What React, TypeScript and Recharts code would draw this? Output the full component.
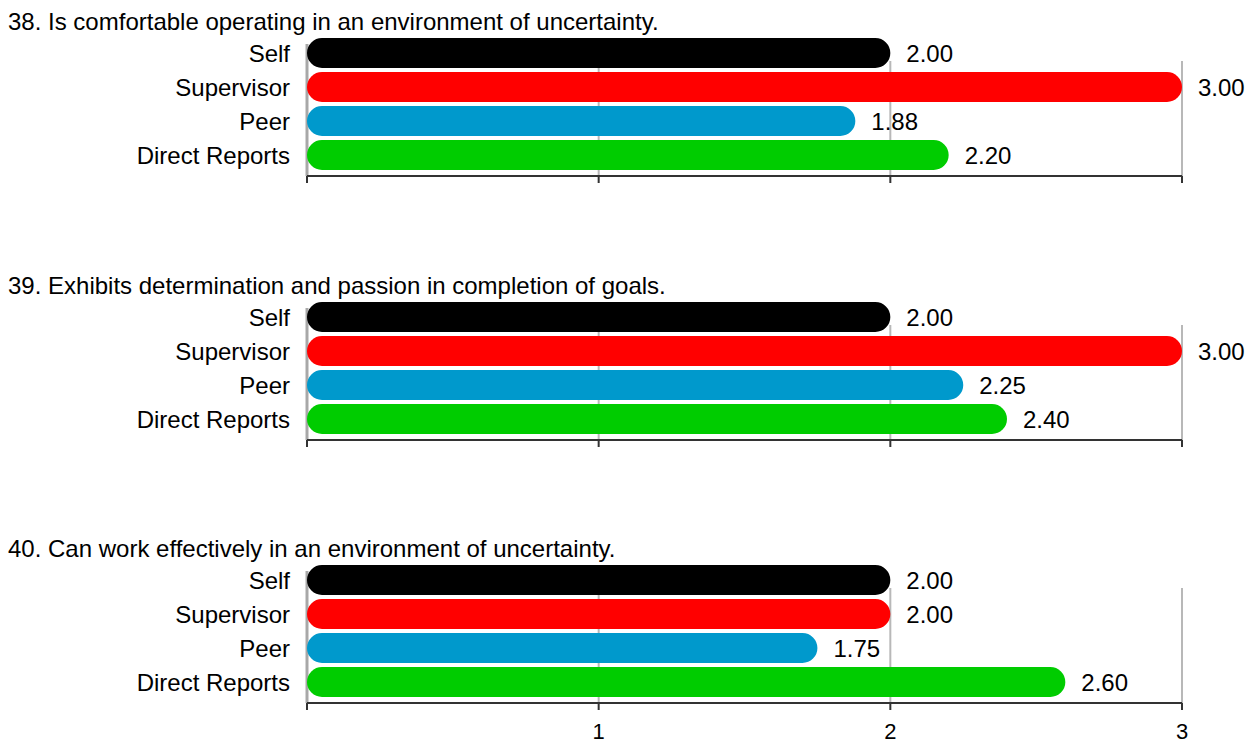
import React from 'react';
import { BarChart, Bar, XAxis, YAxis, CartesianGrid, Cell, LabelList } from 'recharts';

const categories = ['Self', 'Supervisor', 'Peer', 'Direct Reports'];
const questions = [
  '38. Is comfortable operating in an environment of uncertainty.',
  '39. Exhibits determination and passion in completion of goals.',
  '40. Can work effectively in an environment of uncertainty.',
];
const q38Scores = [2.0, 3.0, 1.88, 2.2];
const q39Scores = [2.0, 3.0, 2.25, 2.4];
const q40Scores = [2.0, 2.0, 1.75, 2.6];
const xTicks = [0, 1, 2, 3];
const barColors = ['#000000', '#ff0000', '#0099cc', '#00cc00'];

const allScores = [q38Scores, q39Scores, q40Scores];

const PANEL_STEP = 263.5;
const FONT = 24;

// grid lines: left one is the grey axis, others start a bit lower
const renderGridLine = (props: any) => {
  const { x1, x2, y1, y2, index } = props;
  const isLeft = index === 0;
  return (
    <line
      key={`grid-${index}`}
      x1={x1}
      x2={x2}
      y1={y1 + (isLeft ? 8 : 25)}
      y2={y2}
      stroke={isLeft ? '#a8a8a8' : '#b8b8b8'}
      strokeWidth={isLeft ? 3 : 2}
    />
  );
};

const Panel: React.FC<{ title: string; scores: number[]; top: number; showTicks: boolean }> = ({
  title,
  scores,
  top,
  showTicks,
}) => {
  const data = categories.map((name, i) => ({ name, value: scores[i] }));

  const renderTick = (props: any) => {
    const { x, y, payload } = props;
    if (!showTicks || payload.value === 0) return <g />;
    return (
      <text x={x} y={y} dy={27} textAnchor="middle" fill="#000" fontSize={22}>
        {payload.value}
      </text>
    );
  };

  return (
    <div style={{ position: 'absolute', left: 8, top: 8 + top }}>
      <div style={{ position: 'absolute', left: 0, top: 0, fontSize: FONT, whiteSpace: 'nowrap', lineHeight: '28px' }}>
        {title}
      </div>
      <div style={{ position: 'absolute', left: 0, top: 0 }}>
        <BarChart
          width={1239}
          height={208}
          data={data}
          layout="vertical"
          margin={{ top: 28, right: 65, bottom: 0, left: 0 }}
        >
          <CartesianGrid horizontal={false} vertical={renderGridLine} />
          <XAxis
            type="number"
            domain={[0, 3]}
            ticks={xTicks}
            interval={0}
            height={40}
            axisLine={{ stroke: '#333', strokeWidth: 2 }}
            tickLine={{ stroke: '#333', strokeWidth: 2 }}
            tickSize={7}
            tick={renderTick}
          />
          <YAxis
            type="category"
            dataKey="name"
            width={299}
            axisLine={false}
            tickLine={false}
            tickSize={0}
            tickMargin={17}
            padding={{ top: 0, bottom: 4 }}
            tick={{ fill: '#000', fontSize: FONT }}
          />
          <Bar dataKey="value" barSize={30} radius={15} isAnimationActive={false}>
            {data.map((d, i) => (
              <Cell key={d.name} fill={barColors[i]} />
            ))}
            <LabelList
              dataKey="value"
              position="right"
              offset={16}
              fill="#000"
              fontSize={FONT}
              formatter={(v: any) => Number(v).toFixed(2)}
            />
          </Bar>
        </BarChart>
      </div>
    </div>
  );
};

export default function App() {
  return (
    <div
      style={{
        position: 'relative',
        width: 1247,
        height: 743,
        overflow: 'hidden',
        fontFamily: '"Liberation Sans", Arial, sans-serif',
        color: '#000',
      }}
    >
      <style>{'html { overflow: hidden; } body { margin: 0; }'}</style>
      {questions.map((q, i) => (
        <Panel key={q} title={q} scores={allScores[i]} top={i * PANEL_STEP} showTicks={i === questions.length - 1} />
      ))}
    </div>
  );
}
